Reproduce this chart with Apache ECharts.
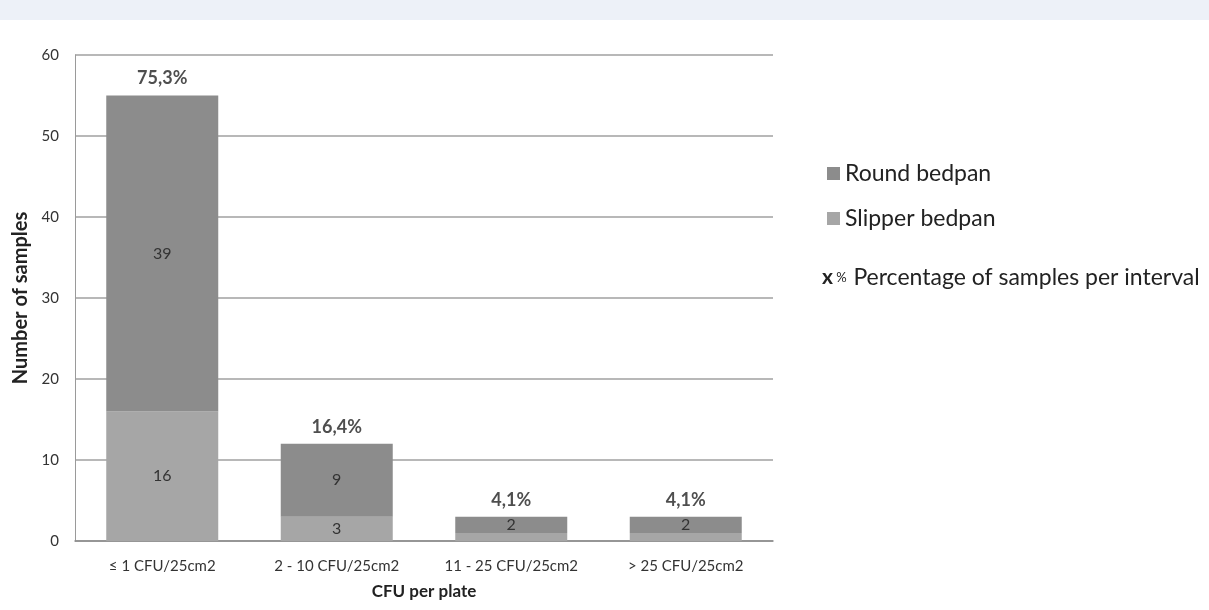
<!DOCTYPE html>
<html>
<head>
<meta charset="utf-8">
<script src="https://cdn.jsdelivr.net/npm/echarts@6/dist/echarts.min.js"></script>
<style>
    html, body { margin: 0; padding: 0; background: #fff; }
    #chart { width: 1209px; height: 610px; }
</style>
</head>
<body>
<div id="chart"></div>
<script>
// 数据
var categories = ['≤ 1 CFU/25cm2', '2 - 10 CFU/25cm2', '11 - 25 CFU/25cm2', '> 25 CFU/25cm2'];
var slipper = [16, 3, 1, 1];
var round = [39, 9, 2, 2];
var percents = ['75,3%', '16,4%', '4,1%', '4,1%'];
var fontFamily = 'Lato';

var totals = round.map(function (v, i) { return v + slipper[i]; });

var chart = echarts.init(document.getElementById('chart'));
var option = {
    animation: false,
    textStyle: { fontFamily: fontFamily },
    grid: { left: 75, top: 55, width: 698, height: 486 },
    legend: {
        orient: 'vertical',
        left: 822,
        top: 157,
        itemWidth: 13,
        itemHeight: 13,
        itemGap: 22,
        icon: 'rect',
        textStyle: { fontSize: 23, color: '#222', fontFamily: fontFamily },
        data: ['Round bedpan', 'Slipper bedpan']
    },
    xAxis: {
        type: 'category',
        data: categories,
        name: 'CFU per plate',
        nameLocation: 'middle',
        nameGap: 42,
        nameTextStyle: { fontWeight: 'bold', fontSize: 17, color: '#222' },
        axisTick: { show: false },
        axisLine: { lineStyle: { color: '#8a8a8a', width: 1.5 } },
        axisLabel: { interval: 0, fontSize: 15, color: '#333', margin: 18 }
    },
    yAxis: {
        type: 'value',
        min: 0,
        max: 60,
        interval: 10,
        name: 'Number of samples',
        nameLocation: 'middle',
        nameGap: 44,
        nameTextStyle: { fontWeight: 'bold', fontSize: 20, color: '#222' },
        axisLine: { show: true, lineStyle: { color: '#9a9a9a' } },
        axisTick: { show: false },
        axisLabel: { fontSize: 15, color: '#333', margin: 16 },
        splitLine: { lineStyle: { color: '#a0a0a0', width: 1.5 } }
    },
    series: [
        {
            name: 'Slipper bedpan',
            type: 'bar',
            stack: 'total',
            barWidth: 112,
            itemStyle: { color: '#a6a6a6' },
            label: {
                show: true,
                position: 'inside',
                fontSize: 16,
                color: '#333',
                formatter: function (p) { return p.value > 1 ? p.value : ''; }
            },
            data: slipper
        },
        {
            name: 'Round bedpan',
            type: 'bar',
            stack: 'total',
            barWidth: 112,
            itemStyle: { color: '#8c8c8c' },
            label: {
                show: true,
                position: 'inside',
                fontSize: 16,
                color: '#333'
            },
            data: round
        },
        {
            // 百分比标签
            name: 'pct',
            type: 'scatter',
            symbolSize: 0,
            silent: true,
            label: {
                show: true,
                position: 'top',
                distance: 8,
                fontSize: 18,
                fontWeight: 'bold',
                color: '#222',
                formatter: function (p) { return percents[p.dataIndex]; }
            },
            data: totals
        }
    ],
    graphic: [
        { type: 'rect', left: 0, top: 0, shape: { width: 1209, height: 20 }, style: { fill: '#edf1f8' } },
        {
            type: 'text',
            left: 822,
            top: 266,
            style: {
                text: '{x|x}{p| %}  {t|Percentage of samples per interval}',
                rich: {
                    x: { fontSize: 21, fontWeight: 'bold', fill: '#222', fontFamily: fontFamily },
                    p: { fontSize: 13, fill: '#222', fontFamily: fontFamily },
                    t: { fontSize: 23, fill: '#222', fontFamily: fontFamily }
                }
            }
        }
    ]
};
chart.setOption(option);
</script>
</body>
</html>
